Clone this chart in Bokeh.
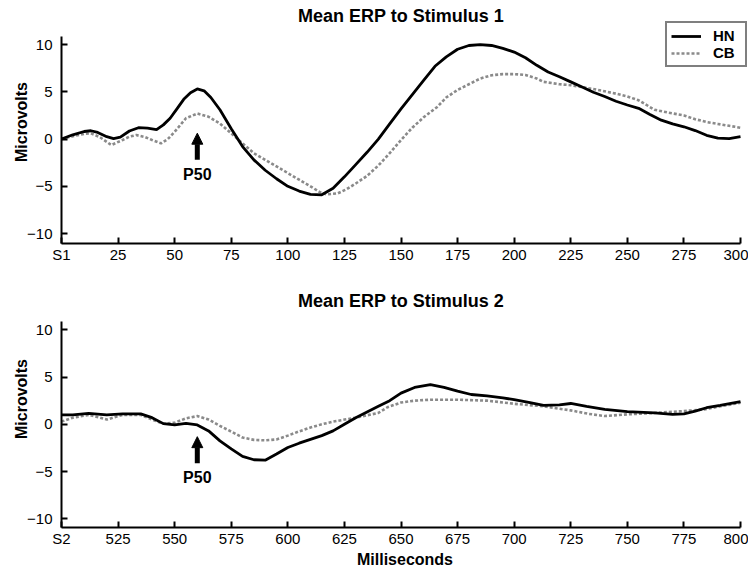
from bokeh.plotting import figure
from bokeh.layouts import column
from bokeh.models import Range1d, FixedTicker, Legend, LegendItem, Arrow, NormalHead, Label
from bokeh.core.properties import value
from bokeh.embed import file_html
from bokeh.resources import INLINE

FONT = "Liberation Sans"

# ---------------- data ----------------
s1_hn_t = [0, 5, 10, 13, 16, 20, 23, 26, 30, 34, 38, 42, 45, 48, 51, 54, 57, 60, 63, 66, 70, 75, 80, 85, 90, 95,
           100, 105, 110, 115, 120, 125, 130, 135, 140, 145, 150, 155, 160, 165, 170, 175, 180, 185, 190, 195,
           200, 205, 210, 215, 220, 225, 230, 235, 240, 245, 250, 255, 260, 265, 270, 275, 280, 285, 290, 295, 300]
s1_hn_v = [0.0, 0.45, 0.8, 0.88, 0.7, 0.25, 0.05, 0.2, 0.85, 1.2, 1.15, 1.0, 1.5, 2.2, 3.2, 4.2, 4.9, 5.3, 5.1, 4.4,
           3.1, 1.1, -0.8, -2.2, -3.3, -4.2, -5.0, -5.5, -5.85, -5.9, -5.2, -4.0, -2.7, -1.4, 0.0, 1.6, 3.2, 4.7,
           6.2, 7.7, 8.7, 9.5, 9.9, 10.0, 9.9, 9.6, 9.2, 8.6, 7.8, 7.1, 6.6, 6.05, 5.5, 4.95, 4.5, 4.0, 3.6, 3.25,
           2.6, 2.0, 1.6, 1.3, 0.9, 0.4, 0.1, 0.05, 0.25]

s1_cb_t = [0, 5, 10, 13, 17, 22, 27, 30, 33, 37, 40, 44, 47, 50, 55, 60, 65, 70, 75, 80, 85, 90, 95, 100, 105, 110,
           114, 117, 122, 126, 130, 135, 140, 145, 150, 155, 160, 166, 170, 175, 180, 185, 190, 195, 200, 205, 210,
           213, 220, 225, 230, 237, 245, 250, 255, 262, 268, 275, 280, 285, 290, 295, 300]
s1_cb_v = [0.0, 0.3, 0.55, 0.6, 0.2, -0.63, -0.1, 0.25, 0.42, 0.2, -0.1, -0.46, 0.0, 0.77, 2.2, 2.7, 2.36, 1.65,
           0.6, -0.46, -1.5, -2.2, -2.9, -3.6, -4.3, -5.0, -5.6, -5.85, -5.75, -5.3, -4.7, -3.9, -2.8, -1.5, -0.1,
           1.2, 2.3, 3.4, 4.4, 5.2, 5.8, 6.4, 6.75, 6.87, 6.87, 6.78, 6.4, 6.05, 5.8, 5.7, 5.5, 5.2, 4.8, 4.5, 4.1,
           3.1, 2.8, 2.5, 2.1, 1.8, 1.6, 1.4, 1.2]

s2_hn_t = [500, 505, 512, 520, 527, 535, 540, 545, 550, 555, 560, 565, 570, 575, 580, 585, 590, 595, 600, 605, 610,
           615, 620, 625, 630, 635, 640, 645, 650, 656, 663, 669, 675, 681, 688, 695, 700, 707, 713, 720, 725, 732,
           740, 750, 762, 770, 775, 780, 785, 791, 800]
s2_hn_v = [1.0, 1.0, 1.15, 1.0, 1.1, 1.1, 0.7, 0.07, -0.07, 0.1, -0.07, -0.7, -1.75, -2.6, -3.4, -3.75, -3.8,
           -3.15, -2.45, -2.0, -1.6, -1.2, -0.7, 0.0, 0.7, 1.3, 1.9, 2.5, 3.3, 3.9, 4.2, 3.9, 3.5, 3.15, 3.0, 2.8,
           2.6, 2.3, 2.0, 2.05, 2.2, 1.9, 1.57, 1.33, 1.2, 1.05, 1.1, 1.4, 1.75, 2.0, 2.4]

s2_cb_t = [500, 505, 512, 520, 527, 535, 540, 545, 550, 555, 560, 565, 570, 575, 580, 585, 590, 595, 600, 605, 610,
           615, 620, 630, 640, 644, 650, 656, 663, 675, 688, 700, 713, 725, 733, 740, 750, 762, 775, 784, 791, 800]
s2_cb_v = [0.28, 0.7, 1.0, 0.5, 1.0, 1.0, 0.5, 0.07, 0.17, 0.63, 0.87, 0.5, -0.17, -0.77, -1.4, -1.65, -1.7, -1.6,
           -1.2, -0.75, -0.35, 0.0, 0.28, 0.7, 1.2, 1.8, 2.3, 2.5, 2.6, 2.6, 2.5, 2.17, 1.9, 1.47, 1.1, 0.87, 1.05,
           1.2, 1.4, 1.57, 1.9, 2.27]

y_ticks = [-10, -5, 0, 5, 10]
y_axis_top = 10.85
s1_x_ticks = [0, 25, 50, 75, 100, 125, 150, 175, 200, 225, 250, 275, 300]
s2_x_ticks = [500, 525, 550, 575, 600, 625, 650, 675, 700, 725, 750, 775, 800]
s1_first_label = "S1"
s2_first_label = "S2"
series_names = ["HN", "CB"]
titles = ["Mean ERP to Stimulus 1", "Mean ERP to Stimulus 2"]

# P50 annotations: x, arrow start y, arrow tip y, text baseline y
p50_s1 = [60, -2.19, 0.62, -3.78]
p50_s2 = [560, -4.13, -1.31, -5.6]

HN_COLOR = "black"
CB_COLOR = "#8a8a8a"

PX_PER_UV = 9.452       # vertical scale of both panels
AXIS_W = 679            # pixel length of the 300 ms axis
FRAME_W = 687


def make_fig(title, frame_h, y_bottom, border_bottom, title_y, xticks, first_label,
             hn_t, hn_v, cb_t, cb_v, p50, xlabel=None):
    x0, x1 = xticks[0], xticks[-1]
    x_end = x0 + (x1 - x0) * FRAME_W / AXIS_W
    y_top = y_bottom + frame_h / PX_PER_UV
    p = figure(frame_width=FRAME_W, frame_height=frame_h, output_backend="svg", toolbar_location=None,
               x_range=Range1d(x0, x_end), y_range=Range1d(y_bottom, y_top),
               min_border_left=61, min_border_right=0, min_border_top=0,
               min_border_bottom=border_bottom)
    p.outline_line_color = None
    p.xgrid.visible = False
    p.ygrid.visible = False

    for ax in (p.xaxis[0], p.yaxis[0]):
        ax.axis_line_width = 2
        ax.axis_line_color = "black"
        ax.major_tick_line_width = 2
        ax.major_tick_line_color = "black"
        ax.major_tick_in = 6
        ax.major_tick_out = 0
        ax.minor_tick_line_color = None
        ax.major_label_text_font = FONT
        ax.major_label_text_font_size = "15px"
        ax.major_label_text_color = "black"
        ax.axis_label_text_font = FONT
        ax.axis_label_text_font_size = "16px"
        ax.axis_label_text_font_style = "bold"
        ax.axis_label_text_color = "black"

    p.xaxis.ticker = FixedTicker(ticks=xticks)
    p.xaxis.bounds = (x0, x1)
    p.xaxis.major_label_overrides = {x0: first_label}
    p.xaxis.major_label_standoff = 2
    if xlabel:
        p.xaxis.axis_label = xlabel
        p.xaxis.axis_label_standoff = 1
    p.yaxis.ticker = FixedTicker(ticks=y_ticks)
    p.yaxis.bounds = (y_bottom, y_axis_top)
    p.yaxis.major_label_standoff = 9
    p.yaxis.axis_label = "Microvolts"
    p.yaxis.axis_label_standoff = -6

    r_cb = p.line(cb_t, cb_v, line_color=CB_COLOR, line_width=2.6, line_dash="3 2")
    r_hn = p.line(hn_t, hn_v, line_color=HN_COLOR, line_width=2.8)

    p.add_layout(Arrow(end=NormalHead(size=11, fill_color="black", line_color="black", line_width=1),
                       x_start=p50[0], y_start=p50[1], x_end=p50[0], y_end=p50[2],
                       line_width=5, line_color="black"))
    p.text(x=[p50[0]], y=[p50[3]], text=["P50"], text_font=value(FONT), text_font_style="bold",
           text_font_size="16px", text_align="center", text_baseline="alphabetic", text_color="black")

    p.add_layout(Label(x=AXIS_W / 2, y=title_y, x_units="screen", y_units="screen", text=title,
                       text_font=FONT, text_font_size="18px", text_font_style="bold",
                       text_align="center", text_baseline="alphabetic", text_color="black"))
    return p, r_hn, r_cb


p1, h1, c1 = make_fig(titles[0], 243, -11.05, 27, 227.7, s1_x_ticks, s1_first_label,
                      s1_hn_t, s1_hn_v, s1_cb_t, s1_cb_v, p50_s1)
legend = Legend(items=[LegendItem(label=series_names[0], renderers=[h1]),
                       LegendItem(label=series_names[1], renderers=[c1])],
                location=(604, 176), label_text_font=FONT, label_text_font_style="bold",
                label_text_font_size="15px", label_text_color="black",
                glyph_width=30, glyph_height=16, label_height=16, label_width=28,
                spacing=0, padding=4, label_standoff=12, margin=0,
                border_line_color="black", border_line_width=2,
                background_fill_color="white", background_fill_alpha=1)
p1.add_layout(legend)

p2, h2, c2 = make_fig(titles[1], 257, -10.92, 40, 226.7, s2_x_ticks, s2_first_label,
                      s2_hn_t, s2_hn_v, s2_cb_t, s2_cb_v, p50_s2, xlabel="Milliseconds")

layout = column(p1, p2, spacing=0)
open("out.html", "w").write(file_html(layout, INLINE))
